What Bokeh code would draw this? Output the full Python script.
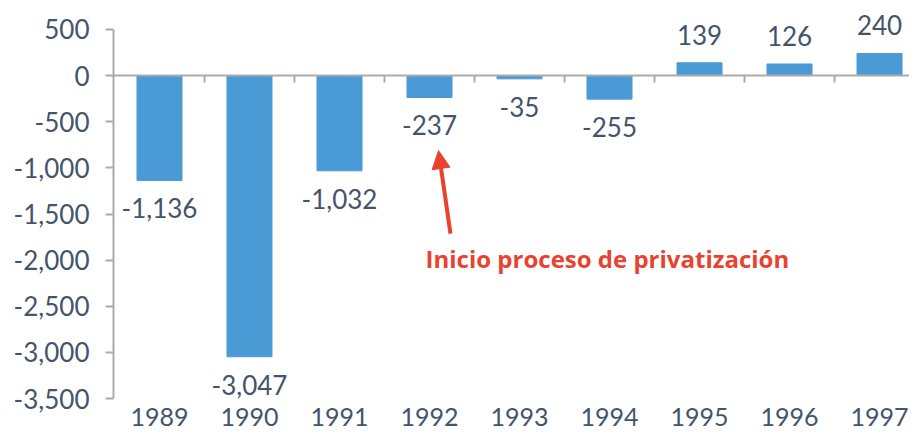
from bokeh.plotting import figure
from bokeh.models import (ColumnDataSource, FixedTicker, NumeralTickFormatter, Span,
                          Arrow, NormalHead, Range1d)
from bokeh.core.properties import value
from bokeh.embed import file_html
from bokeh.resources import INLINE

years = ["1989", "1990", "1991", "1992", "1993", "1994", "1995", "1996", "1997"]
balance = [-1136, -3047, -1032, -237, -35, -255, 139, 126, 240]
y_ticks = [-3500, -3000, -2500, -2000, -1500, -1000, -500, 0, 500]
annotation_text = "Inicio proceso de privatización"

FONT = "Lato"
TXT = "#44546a"
GRID = "#ababab"
BAR = "#4a9ad6"
RED = "#e8432f"
FS = "26px"
SHIFT = -9  # baseline correction in px

xs = list(range(len(years)))
labels = [f"{v:,}" for v in balance]
offsets = [(37 if v < 0 else -19) + SHIFT for v in balance]
src = ColumnDataSource(dict(x=xs, top=balance, label=labels, yoff=offsets))

# frame spans the whole height; y axis line bounded to the tick range
p = figure(width=909, height=433, output_backend="svg", toolbar_location=None,
           x_range=Range1d(-0.511, 8.333), y_range=Range1d(-3879, 814),
           min_border_left=113, min_border_right=0, min_border_top=0, min_border_bottom=0)
p.outline_line_color = None
p.grid.visible = False
p.xaxis.visible = False

p.vbar(x="x", top="top", bottom=0, width=0.5, source=src, fill_color=BAR, line_color=BAR)

p.text(x="x", y="top", text="label", y_offset="yoff", source=src,
       text_align="center", text_baseline="alphabetic",
       text_font=value(FONT), text_font_size=FS, text_color=TXT)

# zero line with category separators
p.add_layout(Span(location=0, dimension="width", line_color=GRID, line_width=2))
seps = [i + 0.5 for i in xs[:-1]]
p.segment(x0=seps, y0=[0] * len(seps), x1=seps, y1=[-76] * len(seps),
          line_color=GRID, line_width=2)

# category labels at the bottom
p.text(x=xs, y=[-3700] * len(xs), text=years, text_align="center",
       text_baseline="alphabetic", text_font=value(FONT), text_font_size="25px",
       text_color=TXT)

# y axis
p.yaxis.bounds = (-3500, 500)
p.yaxis.ticker = FixedTicker(ticks=y_ticks)
p.yaxis.formatter = NumeralTickFormatter(format="0,0")
p.yaxis.axis_line_color = GRID
p.yaxis.axis_line_width = 2
p.yaxis.major_tick_line_color = GRID
p.yaxis.major_tick_line_width = 2
p.yaxis.major_tick_out = 8
p.yaxis.major_tick_in = 0
p.yaxis.minor_tick_line_color = None
p.yaxis.major_label_standoff = 16
p.yaxis.major_label_text_font = FONT
p.yaxis.major_label_text_font_size = FS
p.yaxis.major_label_text_color = TXT

# annotation
p.add_layout(Arrow(end=NormalHead(size=18, fill_color=RED, line_color=RED),
                   x_start=3.233, y_start=-1713, x_end=3.10, y_end=-813,
                   line_color=RED, line_width=4))
p.text(x=[2.956], y=[-2081], y_offset=SHIFT, text=[annotation_text], text_align="left",
       text_baseline="alphabetic", text_font=value("Open Sans"), text_font_style="bold",
       text_font_size="24px", text_color=RED)

open("out.html", "w").write(file_html(p, INLINE))
